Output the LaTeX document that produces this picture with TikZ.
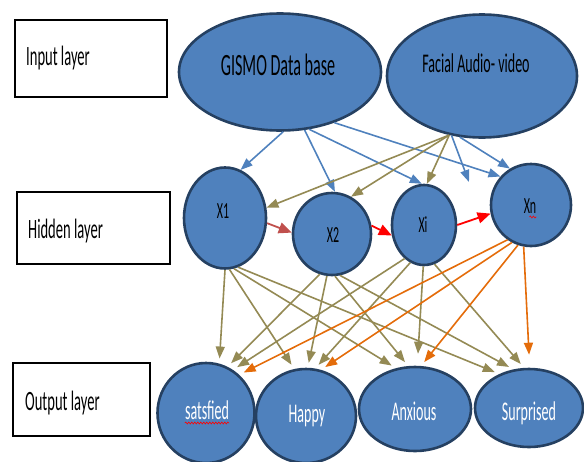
\documentclass[tikz,border=0pt]{standalone}
\usepackage{graphicx}
\usepackage{fontspec}
\setmainfont{Carlito}
\usetikzlibrary{arrows.meta,shapes.geometric,decorations.pathmorphing,calc}

\definecolor{nodefill}{RGB}{79,129,189}
\definecolor{nodeedge}{RGB}{37,64,97}
\definecolor{linkblue}{RGB}{79,129,189}
\definecolor{linkolive}{RGB}{148,138,84}
\definecolor{linkorange}{RGB}{228,108,10}
\definecolor{linkred}{RGB}{192,80,77}
\definecolor{linkbright}{RGB}{255,0,0}

% condensed label text: [horizontal scale]{size}{text}
\newcommand{\narrow}[3][0.52]{\scalebox{#1}[1]{\fontsize{#2}{#2}\selectfont #3}}

\begin{document}
\begin{tikzpicture}[x=1pt,y=-1pt,
  unit/.style={ellipse, draw=nodeedge, line width=2.6pt, fill=nodefill, inner sep=0pt},
  layerbox/.style={draw=black, line width=1.2pt, fill=white, inner sep=0pt},
  caption/.style={inner sep=0pt, anchor=base west},
  inlabel/.style={inner sep=0pt, anchor=base},
  link/.style={line width=1.6pt, -{Triangle[length=12pt,width=9pt]}},
  redlink/.style={line width=1.8pt, -{Triangle[length=13pt,width=11pt]}},
  down/.style={link, shorten >=5pt},
  spell/.style={draw=red, line width=0.6pt, decorate,
    decoration={snake, amplitude=1pt, segment length=3pt}}
]
\useasboundingbox (0,0) rectangle (584,461);

% layer captions
\node[layerbox, minimum width=152pt, minimum height=77pt] (inbox) at (91,58.5) {};
\node[layerbox, minimum width=153pt, minimum height=72pt] (hidbox) at (93.5,228) {};
\node[layerbox, minimum width=137pt, minimum height=73pt] (outbox) at (81.5,399.5) {};

% input layer
\node[unit, minimum width=202pt, minimum height=117pt] (gismo) at (280,72) {};
\node[unit, minimum width=190pt, minimum height=123pt] (facial) at (482,76) {};

% hidden layer
\node[unit, minimum width=82pt, minimum height=101pt] (x1) at (225,218) {};
\node[unit, minimum width=78pt, minimum height=82pt] (x2) at (332,234) {};
\node[unit, minimum width=64pt, minimum height=80pt] (xi) at (424,225) {};
\node[unit, minimum width=80pt, minimum height=82pt] (xn) at (531,205) {};

% output layer
\node[unit, minimum width=97pt, minimum height=100pt] (sat) at (206,413) {};
\node[unit, minimum width=100pt, minimum height=94pt] (hap) at (306,416) {};
\node[unit, minimum width=112pt, minimum height=84pt] (anx) at (415,409) {};
\node[unit, minimum width=108pt, minimum height=78pt] (sur) at (529,408) {};

% input -> hidden
\draw[link, linkblue] (gismo.-87) -- (x1.72);
\draw[link, linkblue] (gismo.-67) -- (x2.86);
\draw[link, linkblue] (gismo.-63) -- (xi.93);
\draw[link, linkblue] (gismo.-43) -- (xn.137);
\coordinate (loose) at (469,182);
\draw[link, linkblue] (facial.-117) -- (loose);
\draw[link, linkblue] (facial.-110) -- (xn.120);
\draw[link, linkolive] (facial.-119) -- (x1.14);
\draw[link, linkolive] (facial.-119) -- (x2.63);
\draw[link, linkolive] (facial.-119) -- (xi.86);

% within hidden layer
\draw[redlink, linkred] (x1.-7) -- (x2.178);
\draw[redlink, linkbright] (x2.12) -- (xi.198);
\draw[redlink, linkbright] (xi.0) -- (xn.192);

% hidden -> output
\draw[down, linkolive] (x1.-90) -- (sat.75);
\draw[down, linkolive] (x1.-85) -- (hap.104);
\draw[down, linkolive] (x1.-80) -- (anx.115);
\draw[down, linkolive] (x1.-75) -- (sur.131);
\draw[down, linkolive] (x2.-107) -- (sat.65);
\draw[down, linkolive] (x2.-97) -- (hap.88);
\draw[down, linkolive] (x2.-86) -- (anx.99);
\draw[down, linkolive] (x2.-79) -- (sur.112);
\draw[down, linkolive] (xi.-120) -- (sat.58);
\draw[down, linkolive] (xi.-110) -- (hap.79);
\draw[down, linkolive, shorten >=12pt] (xi.-91) -- (anx.87);
\draw[down, linkolive] (xi.-75) -- (sur.97);
\draw[down, linkorange] (xn.-124) -- (sat.49);
\draw[down, linkorange] (xn.-117) -- (hap.72);
\draw[down, linkorange] (xn.-108) -- (anx.82);
\draw[down, linkorange, shorten >=13pt] (xn.-100) -- (sur.89);

% texts
\node[caption] (intext) at (26,65) {\narrow{28}{Input layer}};
\node[caption] (hidtext) at (28,238) {\narrow{28}{Hidden layer}};
\node[caption] (outtext) at (25,410) {\narrow{28}{Output layer}};
\node[inlabel] (gistext) at (278,75) {\narrow{31}{GISMO Data base}};
\node[inlabel] (factext) at (476,72) {\narrow{27}{Facial Audio- video}};
\node[inlabel] (x1text) at (223,218) {\narrow{23}{X1}};
\node[inlabel] (x2text) at (333,242) {\narrow{23}{X2}};
\node[inlabel] (xitext) at (423,232) {\narrow{23}{Xi}};
\node[inlabel] (xntext) at (530,213) {\narrow{23}{Xn}};
\node[inlabel, text=white] (sattext) at (207,419) {\narrow{27}{satsfied}};
\node[inlabel, text=white] (haptext) at (307,422) {\narrow{27}{Happy}};
\node[inlabel, text=white] (anxtext) at (414,420) {\narrow{27}{Anxious}};
\node[inlabel, text=white] (surtext) at (529,420) {\narrow{27}{Surprised}};

% spell-check underlines
\draw[spell] ($(sattext.base west)+(0,4)$) -- ($(sattext.base east)+(0,4)$);
\draw[spell] ($(xntext.base east)+(-7,4)$) -- ($(xntext.base east)+(0,4)$);
\end{tikzpicture}
\end{document}
